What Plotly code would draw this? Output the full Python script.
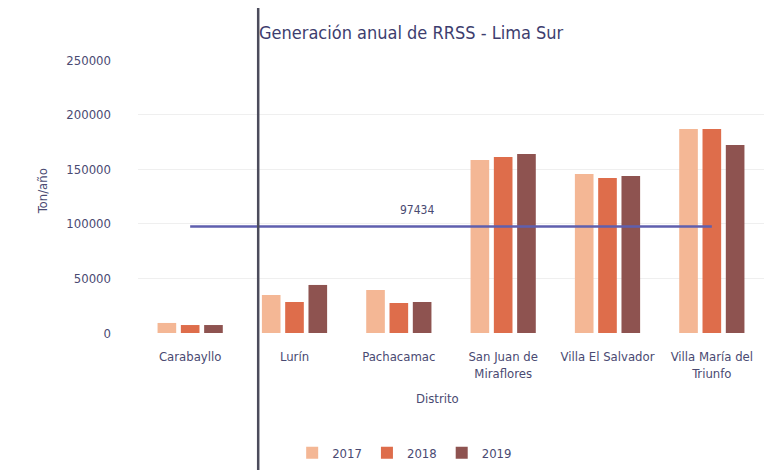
import plotly.graph_objects as go

districts = ["Carabayllo", "Lurín", "Pachacamac", "San Juan de<br>Miraflores",
             "Villa El Salvador", "Villa María del<br>Triunfo"]
years = ["2017", "2018", "2019"]
v2017 = [9200, 34800, 39400, 158400, 145600, 186800]
v2018 = [7300, 28400, 27500, 161200, 141900, 186800]
v2019 = [7300, 44000, 28400, 163900, 143800, 172200]
average = 97434
y_ticks = [0, 50000, 100000, 150000, 200000, 250000]
colors = ["#f4b795", "#de6d4b", "#8e5350"]

FONT = "DejaVu Sans Condensed, Liberation Sans, sans-serif"
TXT = "#4a4a72"

fig = go.Figure()
for name, vals, c in zip(years, [v2017, v2018, v2019], colors):
    fig.add_trace(go.Bar(name=name, x=districts, y=vals, marker_color=c,
                         marker_line_width=0))

fig.add_trace(go.Scatter(x=[districts[0], districts[-1]], y=[average, average],
                         mode="lines", line=dict(color="#5f5fae", width=2.5),
                         showlegend=False, hoverinfo="skip"))

fig.add_annotation(x=districts[2], y=average, text=str(average), showarrow=False,
                   xshift=18, yshift=17, font=dict(size=12, color=TXT, family=FONT))

# page body adds an 8 px offset on both axes
fig.update_layout(
    width=771, height=462,
    paper_bgcolor="white", plot_bgcolor="white",
    margin=dict(l=130, r=15, t=52, b=137),
    barmode="group", bargap=0.33, bargroupgap=0.2,
    font=dict(family=FONT, size=13, color=TXT),
    legend=dict(orientation="h", x=0.426, xanchor="center",
                yref="container", y=0.037, yanchor="middle",
                font=dict(size=13, color=TXT), itemwidth=30, traceorder="normal"),
    xaxis=dict(showgrid=False, showline=False, ticks="", tickfont=dict(size=13),
               ticklabelstandoff=14, automargin=False),
    yaxis=dict(range=[0, 250000], tickvals=y_ticks, tickformat="d", showgrid=True,
               gridcolor="#efefef", zeroline=False, showline=False, ticks="",
               tickfont=dict(size=13), ticklabelstandoff=26, automargin=False),
)

fig.add_annotation(text="Generación anual de RRSS - Lima Sur", xref="paper", yref="paper",
                   x=0.19, y=1.1, xanchor="left", yanchor="middle", showarrow=False,
                   font=dict(size=18, color="#3d3d6e", family=FONT))
fig.add_annotation(text="Ton/año", xref="paper", yref="paper", x=-0.168, y=0.52,
                   textangle=-90, showarrow=False, font=dict(size=13, color=TXT, family=FONT))
fig.add_annotation(text="Distrito", xref="paper", yref="paper", x=0.478, y=-0.275,
                   showarrow=False, font=dict(size=13, color=TXT, family=FONT))

fig.add_shape(type="line", xref="paper", yref="paper", x0=0.192, x1=0.192, y0=1.25, y1=-0.52,
              line=dict(color="#4c4c5c", width=2.5))

fig.write_html("out.html")
